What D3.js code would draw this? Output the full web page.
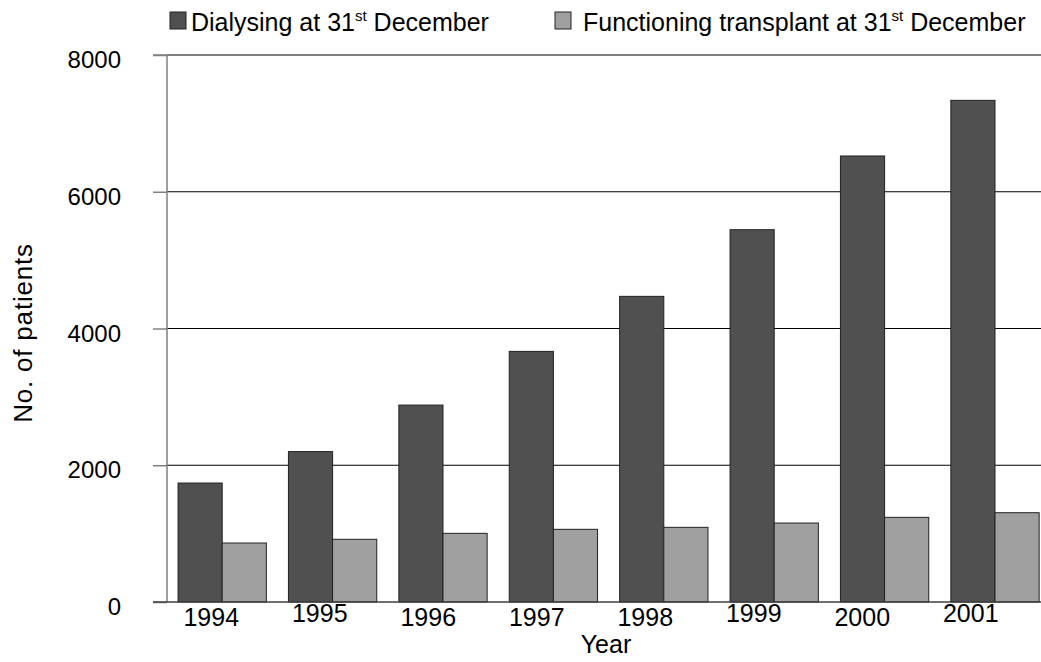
<!DOCTYPE html>
<html>
<head>
<meta charset="utf-8">
<script src="https://cdn.jsdelivr.net/npm/d3@7/dist/d3.min.js"></script>
<style>
  html, body { margin: 0; padding: 0; background: #fff; }
  svg { display: block; font-family: "Liberation Sans", Arial, sans-serif; }
</style>
</head>
<body>
<svg id="chart" width="1041" height="662"></svg>
<script>
const years = ["1994", "1995", "1996", "1997", "1998", "1999", "2000", "2001"];
const dialysing = [1740, 2200, 2880, 3665, 4470, 5445, 6523, 7337];
const transplant = [863, 917, 1004, 1063, 1092, 1155, 1238, 1306];
const seriesNames = ["Dialysing at 31", "Functioning transplant at 31"];
const yTicks = [0, 2000, 4000, 6000, 8000];
const raisedLabels = ["1995", "1999", "2001"];

const svg = d3.select("#chart");
const W = 1041, H = 662;
const x0 = 167, xEnd = 1050.2, yTop = 55, yBase = 602;

const x = d3.scaleBand().domain(years).range([x0, xEnd]).paddingInner(0.2).paddingOuter(0.1);
const xLabel = d3.scaleBand().domain(years).range([157, 1025]);
const y = d3.scaleLinear().domain([0, 8000]).range([yBase, yTop]);

const darkCol = "#505050", lightCol = "#a0a0a0";

// gridlines
svg.append("g").selectAll("line").data(yTicks.filter(d => d > 0)).join("line")
  .attr("x1", x0).attr("x2", W).attr("y1", d => y(d)).attr("y2", d => y(d))
  .attr("stroke", "#000").attr("stroke-width", 1.2);

// bars
const bw = x.bandwidth() / 2;
const g = svg.append("g");
g.selectAll("rect.d").data(years).join("rect").attr("class", "d")
  .attr("x", d => x(d)).attr("width", bw)
  .attr("y", (d, i) => y(dialysing[i])).attr("height", (d, i) => yBase - y(dialysing[i]))
  .attr("fill", darkCol).attr("stroke", "#222").attr("stroke-width", 1);
g.selectAll("rect.t").data(years).join("rect").attr("class", "t")
  .attr("x", d => x(d) + bw).attr("width", bw)
  .attr("y", (d, i) => y(transplant[i])).attr("height", (d, i) => yBase - y(transplant[i]))
  .attr("fill", lightCol).attr("stroke", "#222").attr("stroke-width", 1);

// y axis
const yAxis = d3.axisLeft(y).tickValues(yTicks).tickSize(14).tickPadding(32).tickFormat(d3.format("d"));
const ya = svg.append("g").attr("transform", `translate(${x0},0)`).call(yAxis);
ya.select(".domain").attr("stroke", "#808080").attr("stroke-width", 1.5).attr("d", `M-14,${yTop}H0V${yBase}`);
ya.selectAll(".tick line").attr("stroke", "#808080").attr("stroke-width", 1.5);
ya.selectAll(".tick text").attr("font-size", 24).attr("fill", "#000")
  .attr("font-family", "Liberation Sans, Arial, sans-serif")
  .attr("y", 5);

// baseline
svg.append("line").attr("x1", 153).attr("x2", W).attr("y1", yBase).attr("y2", yBase)
  .attr("stroke", "#404040").attr("stroke-width", 1.5);

// x axis labels
const xAxis = d3.axisBottom(xLabel).tickSize(0).tickPadding(0);
const xa = svg.append("g").attr("transform", `translate(0,${yBase})`).call(xAxis);
xa.select(".domain").remove();
xa.selectAll(".tick text").attr("font-size", 25).attr("fill", "#000")
  .attr("font-family", "Liberation Sans, Arial, sans-serif")
  .attr("y", d => raisedLabels.includes(d) ? 2 : 6).attr("dy", "0.71em");

// axis titles
svg.append("text").attr("x", 606).attr("y", 653).attr("text-anchor", "middle")
  .attr("font-size", 25).text("Year");
svg.append("text").attr("transform", "translate(32,333) rotate(-90)").attr("text-anchor", "middle")
  .attr("font-size", 26).attr("letter-spacing", 0.8).text("No. of patients");

// legend
const legX = [170, 555];
const legTextX = [21, 28];
const cols = [darkCol, lightCol];
seriesNames.forEach((name, i) => {
  const lg = svg.append("g").attr("transform", `translate(${legX[i]},12)`);
  lg.append("rect").attr("width", 16).attr("height", 17).attr("fill", cols[i]).attr("stroke", "#222");
  const t = lg.append("text").attr("x", legTextX[i]).attr("y", 19).attr("font-size", 25);
  t.append("tspan").text(name);
  t.append("tspan").attr("font-size", 15).attr("dy", -10).text("st");
  t.append("tspan").attr("dy", 10).text(" December");
});
</script>
</body>
</html>
